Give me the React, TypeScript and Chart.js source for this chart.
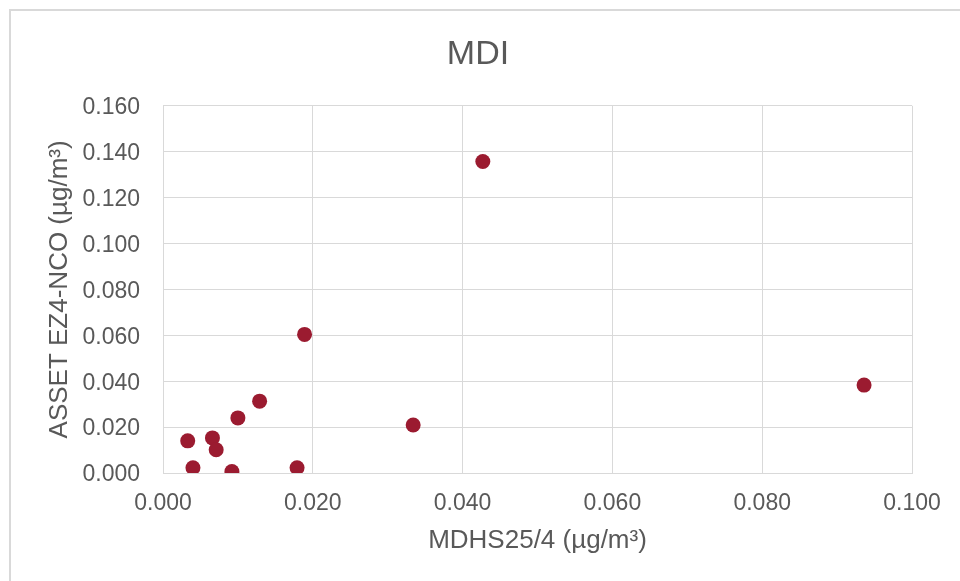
import React, { useEffect, useRef } from "react";
import { Chart, registerables } from "chart.js";

Chart.register(...registerables);

const titleText = "MDI";
const xAxisTitle = "MDHS25/4 (µg/m³)";
const yAxisTitle = "ASSET EZ4-NCO (µg/m³)";

const mdhsValues = [0.0033, 0.004, 0.0066, 0.0071, 0.01, 0.0129, 0.0092, 0.0179, 0.0334, 0.0189, 0.0427, 0.0936];
const assetValues = [0.014, 0.0023, 0.0153, 0.0101, 0.024, 0.0313, 0.0006, 0.0023, 0.0209, 0.0604, 0.1357, 0.0383];

const xMin = 0;
const xMax = 0.1;
const xStep = 0.02;
const yMin = 0;
const yMax = 0.16;
const yStep = 0.02;

export default function App() {
  const ref = useRef<HTMLCanvasElement | null>(null);

  useEffect(() => {
    document.body.style.margin = "0";
    const canvas = ref.current;
    if (!canvas) return;
    const points = mdhsValues.map((x, i) => ({ x, y: assetValues[i] }));
    const textColor = "#595959";
    const gridColor = "#d9d9d9";
    const fontFamily = "'Liberation Sans', Arial, sans-serif";
    const chart = new Chart(canvas, {
      type: "scatter",
      data: {
        datasets: [
          {
            label: "MDI",
            data: points,
            backgroundColor: "#9B1B30",
            borderColor: "#9B1B30",
            borderWidth: 0,
            pointRadius: 7.5,
            pointHoverRadius: 7.5,
          },
        ],
      },
      options: {
        animation: false,
        responsive: false,
        maintainAspectRatio: false,
        events: [],
        layout: { padding: { left: 44, right: 48, top: 0, bottom: 0 } },
        plugins: {
          legend: { display: false },
          tooltip: { enabled: false },
          title: {
            display: true,
            text: titleText,
            color: textColor,
            font: { family: fontFamily, size: 34, weight: "normal" },
            padding: { top: 34, bottom: 31 },
          },
        },
        scales: {
          x: {
            type: "linear",
            min: xMin,
            max: xMax,
            afterFit: (scale: any) => {
              scale.height = 108;
            },
            ticks: {
              stepSize: xStep,
              color: textColor,
              font: { family: fontFamily, size: 23 },
              padding: 17,
              maxRotation: 0,
              callback: (v: any) => Number(v).toFixed(3),
            },
            grid: { color: gridColor, lineWidth: 1, drawTicks: false },
            border: { color: gridColor, width: 1 },
            title: {
              display: true,
              text: xAxisTitle,
              color: textColor,
              font: { family: fontFamily, size: 26 },
              padding: { top: 0, bottom: 25 },
            },
          },
          y: {
            type: "linear",
            min: yMin,
            max: yMax,
            afterFit: (scale: any) => {
              scale.width = 119;
            },
            ticks: {
              stepSize: yStep,
              color: textColor,
              font: { family: fontFamily, size: 23 },
              padding: 23,
              labelOffset: 2,
              callback: (v: any) => Number(v).toFixed(3),
            },
            grid: { color: gridColor, lineWidth: 1, drawTicks: false },
            border: { color: gridColor, width: 1 },
            title: {
              display: true,
              text: yAxisTitle,
              color: textColor,
              font: { family: fontFamily, size: 26 },
              padding: { top: 0, bottom: 0 },
            },
          },
        },
      },
    });
    return () => chart.destroy();
  }, []);

  return (
    <div style={{ position: "relative", width: 960, height: 581, overflow: "hidden", background: "#fff" }}>
      <div
        style={{
          position: "absolute",
          left: 9,
          top: 9,
          width: 1000,
          height: 700,
          border: "2px solid #d9d9d9",
          boxSizing: "border-box",
        }}
      />
      <canvas
        ref={ref}
        width={960}
        height={581}
        style={{ position: "absolute", left: 0, top: 0, width: 960, height: 581 }}
      />
    </div>
  );
}
